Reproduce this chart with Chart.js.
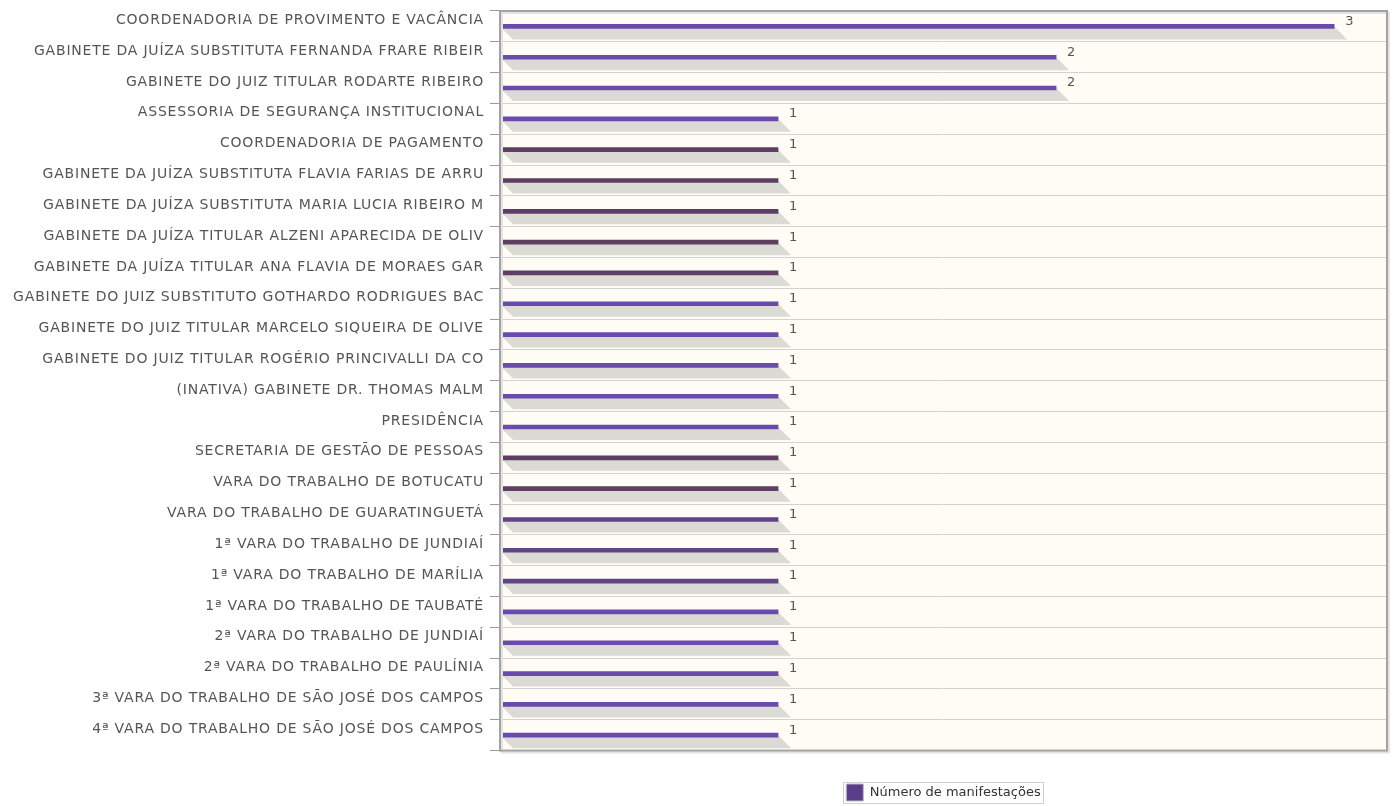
<!DOCTYPE html>
<html>
<head>
<meta charset="utf-8">
<script src="https://cdn.jsdelivr.net/npm/chart.js@4.4.1/dist/chart.umd.min.js"></script>
<style>
  html, body { margin: 0; padding: 0; background: #fff; }
  #wrap { width: 1393px; height: 806px; position: relative; }
</style>
</head>
<body>
<div id="wrap"><canvas id="chart"></canvas></div>
<script>
const categories = [
  'COORDENADORIA DE PROVIMENTO E VACÂNCIA',
  'GABINETE DA JUÍZA SUBSTITUTA FERNANDA FRARE RIBEIR',
  'GABINETE DO JUIZ TITULAR RODARTE RIBEIRO',
  'ASSESSORIA DE SEGURANÇA INSTITUCIONAL',
  'COORDENADORIA DE PAGAMENTO',
  'GABINETE DA JUÍZA SUBSTITUTA FLAVIA FARIAS DE ARRU',
  'GABINETE DA JUÍZA SUBSTITUTA MARIA LUCIA RIBEIRO M',
  'GABINETE DA JUÍZA TITULAR ALZENI APARECIDA DE OLIV',
  'GABINETE DA JUÍZA TITULAR ANA FLAVIA DE MORAES GAR',
  'GABINETE DO JUIZ SUBSTITUTO GOTHARDO RODRIGUES BAC',
  'GABINETE DO JUIZ TITULAR MARCELO SIQUEIRA DE OLIVE',
  'GABINETE DO JUIZ TITULAR ROGÉRIO PRINCIVALLI DA CO',
  '(INATIVA) GABINETE DR. THOMAS MALM',
  'PRESIDÊNCIA',
  'SECRETARIA DE GESTÃO DE PESSOAS',
  'VARA DO TRABALHO DE BOTUCATU',
  'VARA DO TRABALHO DE GUARATINGUETÁ',
  '1ª VARA DO TRABALHO DE JUNDIAÍ',
  '1ª VARA DO TRABALHO DE MARÍLIA',
  '1ª VARA DO TRABALHO DE TAUBATÉ',
  '2ª VARA DO TRABALHO DE JUNDIAÍ',
  '2ª VARA DO TRABALHO DE PAULÍNIA',
  '3ª VARA DO TRABALHO DE SÃO JOSÉ DOS CAMPOS',
  '4ª VARA DO TRABALHO DE SÃO JOSÉ DOS CAMPOS',
];
const manifestacoes = [3, 2, 2, 1, 1, 1, 1, 1, 1, 1, 1, 1, 1, 1, 1, 1, 1, 1, 1, 1, 1, 1, 1, 1];
const seriesLabel = 'Número de manifestações';

// bar tints as they show up in the picture
const PURPLE = '#6a4bab';
const DUSKY = '#5e3e62';
const MID = '#604484';
const barColors = [
  PURPLE, PURPLE, PURPLE, PURPLE, DUSKY, DUSKY, DUSKY, DUSKY, DUSKY,
  PURPLE, PURPLE, PURPLE, PURPLE, PURPLE, DUSKY, DUSKY, MID, MID, MID,
  PURPLE, PURPLE, PURPLE, PURPLE, PURPLE,
];

const FONT = 'DejaVu Sans, Verdana, sans-serif';

// cream plot background + frame
const plotFrame = {
  id: 'plotFrame',
  beforeDraw(chart) {
    const { ctx, chartArea: a } = chart;
    ctx.save();
    ctx.fillStyle = '#fefcf4';
    ctx.fillRect(a.left, a.top, a.right - a.left, a.bottom - a.top);
    ctx.restore();
  },
  afterDraw(chart) {
    const { ctx, chartArea: a } = chart;
    ctx.save();
    ctx.strokeStyle = '#e4e4e4';
    ctx.lineWidth = 2;
    ctx.strokeRect(a.left + 2, a.top + 2, a.right - a.left, a.bottom - a.top);
    ctx.strokeStyle = '#a3a3a3';
    ctx.strokeRect(a.left, a.top, a.right - a.left, a.bottom - a.top);
    // frame round the legend item
    const hb = chart.legend.legendHitBoxes[0];
    if (hb) {
      ctx.strokeStyle = '#cfcfcf';
      ctx.lineWidth = 1;
      ctx.strokeRect(Math.round(hb.left) - 2.5, Math.round(hb.top) - 1.5, Math.round(hb.width) + 6, Math.round(hb.height) + 4);
    }
    ctx.restore();
  },
};

// category labels, drawn by hand so they can get the wide letter spacing
const catLabels = {
  id: 'catLabels',
  afterDraw(chart) {
    const { ctx, chartArea: a } = chart;
    const scale = chart.scales.y;
    ctx.save();
    ctx.fillStyle = '#555';
    ctx.font = '14px ' + FONT;
    ctx.letterSpacing = '0.8px';
    ctx.textAlign = 'right';
    ctx.textBaseline = 'middle';
    categories.forEach((c, i) => {
      ctx.fillText(c, a.left - 16, scale.getPixelForTick(i) - 6);
    });
    ctx.restore();
  },
};

// slanted grey shadow under each bar, and the value next to it
const barShadow = {
  id: 'barShadow',
  beforeDatasetsDraw(chart) {
    const { ctx } = chart;
    const meta = chart.getDatasetMeta(0);
    ctx.save();
    ctx.fillStyle = '#dcdad4';
    meta.data.forEach((bar) => {
      const d = 13;
      ctx.beginPath();
      ctx.moveTo(bar.base, bar.y);
      ctx.lineTo(bar.x, bar.y);
      ctx.lineTo(bar.x + d, bar.y + d);
      ctx.lineTo(bar.base + d, bar.y + d);
      ctx.closePath();
      ctx.fill();
    });
    ctx.restore();
  },
  afterDatasetsDraw(chart) {
    const { ctx } = chart;
    const meta = chart.getDatasetMeta(0);
    ctx.save();
    ctx.fillStyle = '#555';
    ctx.font = '13px ' + FONT;
    ctx.textAlign = 'left';
    ctx.textBaseline = 'middle';
    meta.data.forEach((bar, i) => {
      ctx.fillText(String(manifestacoes[i]), bar.x + 11, bar.y - 5);
    });
    ctx.restore();
  },
};

new Chart(document.getElementById('chart'), {
  type: 'bar',
  data: {
    labels: categories,
    datasets: [
      {
        label: seriesLabel,
        data: manifestacoes,
        backgroundColor: barColors,
        barThickness: 4,
      },
    ],
  },
  options: {
    indexAxis: 'y',
    responsive: true,
    maintainAspectRatio: false,
    animation: false,
    layout: { padding: { top: 11, right: 6, bottom: -5, left: 490 } },
    plugins: {
      tooltip: { enabled: false },
      legend: {
        position: 'bottom',
        fullSize: false,
        title: {
          display: true,
          text: ' ',
          font: { size: 12 },
          padding: { top: 15, bottom: 0 },
        },
        labels: {
          color: '#333',
          font: { family: FONT, size: 13 },
          boxWidth: 17,
          boxHeight: 17,
          padding: 4,
          generateLabels: () => [
            {
              text: seriesLabel,
              fillStyle: '#5b3d8a',
              strokeStyle: '#bbb',
              lineWidth: 1,
              fontColor: '#333',
            },
          ],
        },
      },
    },
    scales: {
      x: {
        display: false,
        min: 0,
        max: 3.19,
      },
      y: {
        border: { display: false },
        grid: {
          color: '#d2d2d2',
          lineWidth: 1,
          tickColor: '#9a9a9a',
          tickLength: 10,
          offset: true,
        },
        ticks: { display: false },
      },
    },
  },
  plugins: [plotFrame, barShadow, catLabels],
});
</script>
</body>
</html>
